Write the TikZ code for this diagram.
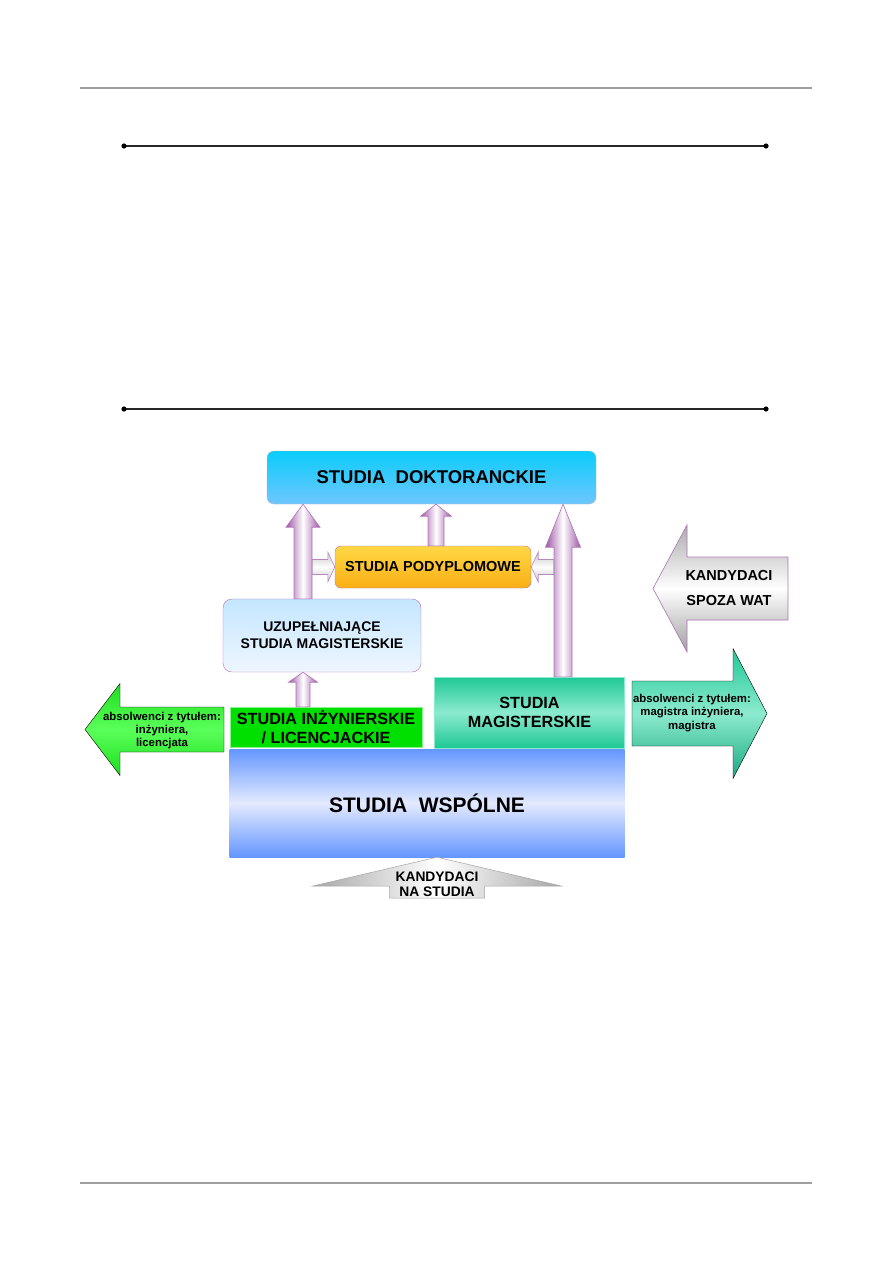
\documentclass[tikz,border=0pt]{standalone}
\usepackage{fontspec}
\setmainfont{Liberation Sans}
\usetikzlibrary{calc,positioning}
\definecolor{cpurp}{RGB}{140,55,150}
\definecolor{cdok}{RGB}{10,205,250}
\definecolor{cdokb}{RGB}{110,198,255}
\definecolor{cpodt}{RGB}{255,215,70}
\definecolor{cpodb}{RGB}{250,175,20}
\definecolor{cuzt}{RGB}{196,230,255}
\definecolor{cuzb}{RGB}{238,246,255}
\definecolor{cinz}{RGB}{0,224,0}
\definecolor{cteal}{RGB}{30,200,150}
\definecolor{ctealm}{RGB}{140,234,206}
\definecolor{cblue}{RGB}{100,150,255}
\definecolor{cbluem}{RGB}{228,234,255}
\definecolor{cgreen}{RGB}{30,222,30}
\definecolor{cgreenm}{RGB}{90,255,90}
\newcommand\fsz[2]{\fontsize{#1}{#2}\selectfont}
% block arrow: [style]{from}{to}{shaft half width}{head half width}{head length}
\newcommand\fatarrow[6][]{%
  \coordinate (fa-a) at (#2);
  \coordinate (fa-b) at (#3);
  \coordinate (fa-h) at ($(fa-b)!#6!(fa-a)$);
  \draw[#1] ($(fa-a)!#4!90:(fa-b)$) -- ($(fa-h)!#4!90:(fa-b)$)
    -- ($(fa-h)!#5!90:(fa-b)$) -- (fa-b) -- ($(fa-h)!#5!-90:(fa-b)$)
    -- ($(fa-h)!#4!-90:(fa-b)$) -- ($(fa-a)!#4!-90:(fa-b)$) -- cycle;}
\tikzset{
  box/.style={rectangle,align=center,inner sep=0pt},
  rule/.style={line width=1.2pt,black!85},
  pagerule/.style={line width=2pt,black!38},
  uparr/.style={draw=cpurp!70,line width=0.6pt,left color=cpurp!85,
    right color=cpurp!85,middle color=white},
  sidearr/.style={draw=cpurp!60,line width=0.6pt,top color=gray!45,
    bottom color=gray!45,middle color=white},
  txt/.style={align=center,inner sep=0pt}
}
\begin{document}
\begin{tikzpicture}[x=1pt,y=-1pt]
 \useasboundingbox (0,0) rectangle (893,1263);
 % page rules and the two framing lines
 \draw[pagerule] (80,88) -- (812,88);
 \draw[pagerule] (80,1183) -- (812,1183);
 \foreach \y in {146,409} {
  \draw[rule] (124,\y) -- (766,\y);
  \fill (124,\y) circle (2.6pt) (766,\y) circle (2.6pt);
 }
 % boxes
 \node[box,rounded corners=7pt,minimum width=329pt,minimum height=53pt,
   top color=cdok,bottom color=cdokb,draw=gray!55,
   font=\bfseries\fsz{18.5}{22}] (dok) at (431.5,477.5)
   {STUDIA~~DOKTORANCKIE};
 \node[box,rounded corners=6pt,minimum width=196pt,minimum height=42pt,
   top color=cpodt,bottom color=cpodb,draw=cpurp!70,
   font=\bfseries\fsz{14.5}{17}] (pod) at (433,567)
   {STUDIA PODYPLOMOWE};
 \node[box,rounded corners=9pt,minimum width=198pt,minimum height=73pt,
   top color=cuzt,bottom color=cuzb,draw=cpurp!70,
   font=\bfseries\fsz{14}{16.7}] (uzup) at (322,635.5)
   {UZUPEŁNIAJĄCE\\ STUDIA MAGISTERSKIE};
 \node[box,minimum width=192pt,minimum height=40pt,fill=cinz,
   draw=cinz!45,font=\bfseries\fsz{16.2}{19.5}] (inz) at (326,727)
   {STUDIA INŻYNIERSKIE\\ / LICENCJACKIE};
 \node[box,minimum width=190pt,minimum height=71pt,top color=cteal,
   bottom color=cteal,middle color=ctealm,draw=ctealm,
   font=\bfseries\fsz{16.2}{18.5}] (mag) at (529.5,712.5)
   {STUDIA\\ MAGISTERSKIE};
 \node[box,minimum width=395pt,minimum height=108pt,top color=cblue,
   bottom color=cblue,middle color=cbluem,
   font=\bfseries\fsz{21}{24}] (wsp) at (427,803)
   {STUDIA~~WSPÓLNE};
 % columns of the upward arrows
 \coordinate (c1) at (303,0);
 \coordinate (c2) at (436,0);
 \coordinate (c3) at (563,0);
 % side arrows into the postgraduate box
 \fatarrow[sidearr]{$(c1 |- pod.west)+(9,0)$}{pod.west}{7.5pt}{15pt}{7pt}
 \fatarrow[sidearr]{$(c3 |- pod.east)+(-9,0)$}{pod.east}{7.5pt}{15pt}{7pt}
 % upward arrows
 \fatarrow[uparr]{c1 |- inz.north}{c1 |- uzup.south}{7pt}{14.5pt}{10pt}
 \fatarrow[uparr]{c1 |- uzup.north}{c1 |- dok.south}{9pt}{17pt}{23pt}
 \fatarrow[uparr]{c2 |- pod.north}{c2 |- dok.south}{8pt}{15.5pt}{12pt}
 \fatarrow[uparr]{c3 |- mag.north}{c3 |- dok.south}{9pt}{17.5pt}{43pt}
 % graduates leaving, candidates coming in
 \coordinate (gout) at (224,729.5);
 \coordinate (gtip) at (85,729.5);
 \fatarrow[top color=cgreen,bottom color=cgreen,middle color=cgreenm]
   {gout}{gtip}{22.5pt}{46pt}{35pt}
 \node[txt,font=\bfseries\fsz{11.4}{13}] (absinz) at (162,731)
   {absolwenci z tytułem:\\ inżyniera,\\ licencjata};
 \coordinate (mout) at (632,713.5);
 \coordinate (mtip) at (767,713.5);
 \fatarrow[top color=cteal,bottom color=cteal!85!black,middle color=ctealm]
   {mout}{mtip}{32.5pt}{65pt}{34pt}
 \node[txt,font=\bfseries\fsz{11.4}{13.3}] (absmag) at (692,713)
   {absolwenci z tytułem:\\ magistra inżyniera,\\ magistra};
 \coordinate (kin) at (788,588.5);
 \coordinate (ktip) at (653,588.5);
 \fatarrow[draw=cpurp!70,line width=0.6pt,top color=gray!65,bottom color=gray!75,
   middle color=white]{kin}{ktip}{31.5pt}{63.5pt}{34pt}
 \node[txt,font=\bfseries\fsz{14.5}{25}] (kspoza) at (729,588)
   {KANDYDACI\\ SPOZA WAT};
 \coordinate (kns) at (437,898);
 \fatarrow[draw=gray!70,line width=0.5pt,left color=gray!70,right color=gray!70,
   middle color=white]{kns}{kns |- wsp.south}{47.5pt}{125pt}{29pt}
 \node[txt,font=\bfseries\fsz{13.8}{15}] (kna) at (437,884)
   {KANDYDACI\\ NA STUDIA};
\end{tikzpicture}
\end{document}
